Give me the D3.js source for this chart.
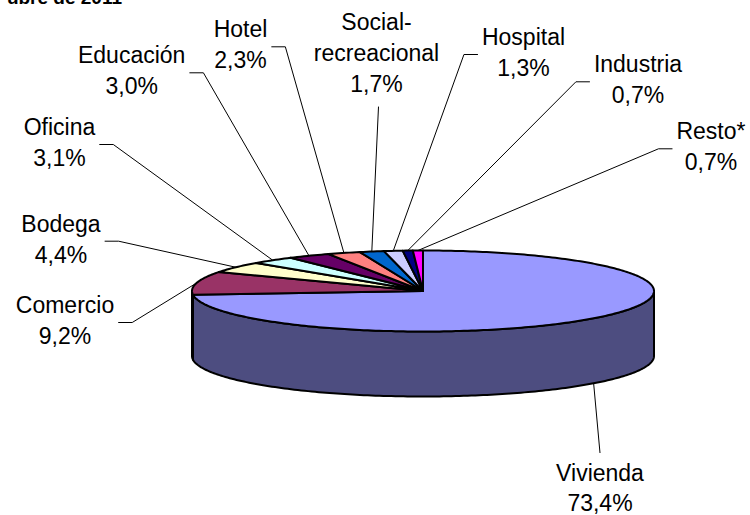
<!DOCTYPE html>
<html>
<head>
<meta charset="utf-8">
<script src="https://cdn.jsdelivr.net/npm/d3@7"></script>
<style>
  html, body { margin: 0; padding: 0; background: #fff; }
  svg { display: block; }
  text { font-family: "Liberation Sans", Arial, sans-serif; fill: #000; }
</style>
</head>
<body>
<svg id="chart" width="750" height="515"></svg>
<script>
// ---- data ----
const categories = ["Vivienda", "Comercio", "Bodega", "Oficina", "Educación", "Hotel",
                    "Social-recreacional", "Hospital", "Industria", "Resto*"];
const values = [73.4, 9.2, 4.4, 3.1, 3.0, 2.3, 1.7, 1.3, 0.7, 0.7];
const categoryLines = [["Vivienda"], ["Comercio"], ["Bodega"], ["Oficina"], ["Educación"], ["Hotel"],
                       ["Social-", "recreacional"], ["Hospital"], ["Industria"], ["Resto*"]];
const titleText = "ubre de 2011";

// ---- styles / layout (kept apart from data) ----
const colors = ["#9999FF", "#993366", "#FFFFCC", "#CCFFFF", "#660066", "#FF8080",
                "#0066CC", "#CCCCFF", "#000080", "#FF00FF"];
const labelLayout = [
  {x: 600,   y: 480.5, side: "top"},
  {x: 65,    y: 313,   side: "right"},
  {x: 61,    y: 231.7, side: "right"},
  {x: 59.5,  y: 135,   side: "right"},
  {x: 131.7, y: 63.3,  side: "right"},
  {x: 240.5, y: 37.3,  side: "right"},
  {x: 376.5, y: 30,    side: "bottom"},
  {x: 523.5, y: 45,    side: "left"},
  {x: 638,   y: 72.3,  side: "left"},
  {x: 711,   y: 139.3, side: "left"}
];
const cx = 423, cy = 291, rx = 231, ry = 40.5, depth = 65;
const lineGap = 30.8;
const fontSize = 23;

const svg = d3.select("#chart");

// title (cut off at top edge)
svg.append("text")
  .attr("x", 122).attr("y", 4)
  .attr("text-anchor", "end")
  .style("font-weight", "bold")
  .style("font-size", "19px")
  .text(titleText);

const pie = d3.pie().sort(null).value(d => d)
  .startAngle(0).endAngle(2 * Math.PI);
const arcs = pie(values);

const pt = (a, dz = 0) => [cx + rx * Math.sin(a), cy - ry * Math.cos(a) + dz];
const sample = (a0, a1, dz) => {
  const n = Math.max(2, Math.ceil(Math.abs(a1 - a0) / (Math.PI / 180)));
  return d3.range(n + 1).map(i => pt(a0 + (a1 - a0) * i / n, dz));
};
const line = d3.line();

const darker = c => d3.color(c).darker(1.0).formatHex();

// side walls (front half only: angles between PI/2 and 3PI/2)
const gSide = svg.append("g");
arcs.forEach((d, i) => {
  const s = Math.max(d.startAngle, Math.PI / 2);
  const e = Math.min(d.endAngle, 3 * Math.PI / 2);
  if (e <= s) return;
  const top = sample(s, e, 0);
  const bot = sample(e, s, depth);
  gSide.append("path")
    .attr("d", line(top.concat(bot)) + "Z")
    .attr("fill", i === 0 ? "#4D4D80" : darker(colors[i]))
    .attr("stroke", "#000")
    .attr("stroke-width", 2)
    .attr("stroke-linejoin", "round");
});

// top faces
const gTop = svg.append("g");
arcs.forEach((d, i) => {
  const pts = [[cx, cy]].concat(sample(d.startAngle, d.endAngle, 0));
  gTop.append("path")
    .attr("d", line(pts) + "Z")
    .attr("fill", colors[i])
    .attr("stroke", "#000")
    .attr("stroke-width", 2)
    .attr("stroke-linejoin", "round");
});

// labels and leader lines
const gLab = svg.append("g");
arcs.forEach((d, i) => {
  const L = labelLayout[i];
  const lines = categoryLines[i].concat([values[i].toFixed(1).replace(".", ",") + "%"]);
  const t = gLab.append("text")
    .attr("text-anchor", "middle")
    .style("font-size", fontSize + "px");
  const spans = lines.map((s, k) => t.append("tspan")
      .attr("x", L.x).attr("y", L.y + k * lineGap).text(s));
  const halfW = d3.max(spans, sp => sp.node().getComputedTextLength()) / 2;

  const mid = (d.startAngle + d.endAngle) / 2;
  const anchor = i === 0 ? pt(mid, depth) : pt(mid, 0);
  let pts;
  if (L.side === "right") {
    const x0 = L.x + halfW + 4, yy = L.y + 9.5;
    pts = [[x0, yy], [x0 + 14, yy], anchor];
  } else if (L.side === "left") {
    const x0 = L.x - halfW - 4, yy = L.y + 9.5;
    pts = [[x0, yy], [x0 - 14, yy], anchor];
  } else if (L.side === "bottom") {
    pts = [[L.x + 2, L.y + (lines.length - 1) * lineGap + 15], anchor];
  } else {
    pts = [[L.x, L.y - 27.5], anchor];
  }
  gLab.append("path")
    .attr("d", line(pts))
    .attr("fill", "none")
    .attr("stroke", "#000")
    .attr("stroke-width", 1);
});
</script>
</body>
</html>
